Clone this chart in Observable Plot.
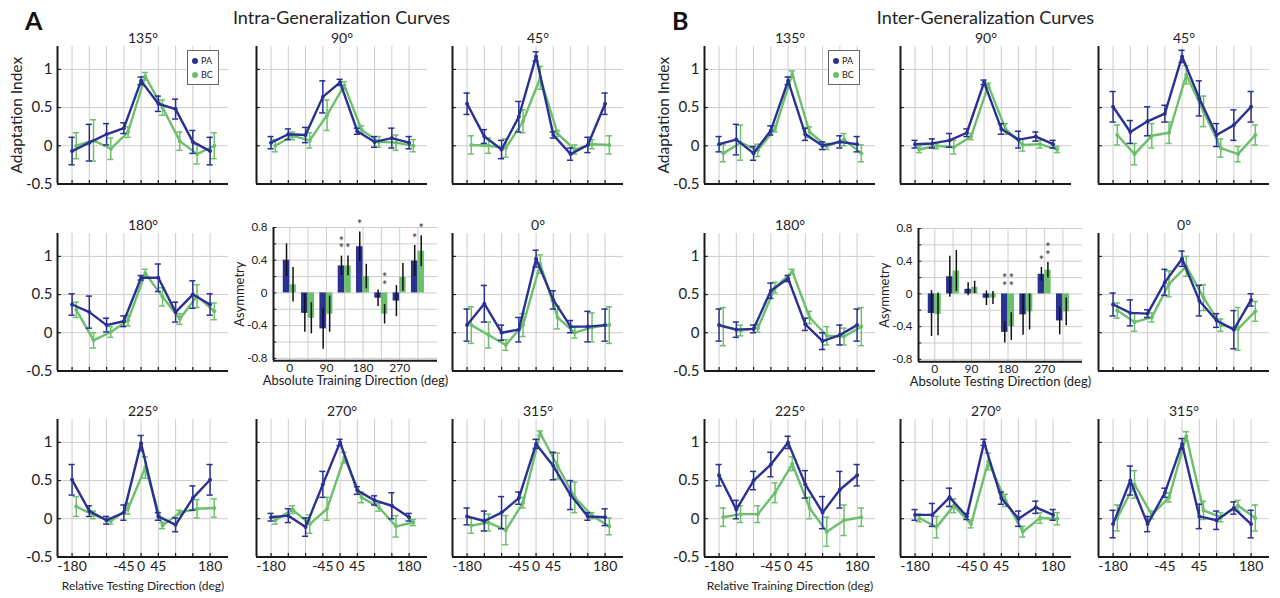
<!DOCTYPE html>
<html>
<head>
<meta charset="utf-8">
<script src="https://cdn.jsdelivr.net/npm/d3@7"></script>
<script src="https://cdn.jsdelivr.net/npm/@observablehq/plot@0.6"></script>
<style>
  html, body { margin: 0; padding: 0; background: #fff; }
  #fig { position: relative; width: 1280px; height: 598px; overflow: hidden; font-family: Lato, "Open Sans", sans-serif; color: #222; }
  .lbl { position: absolute; white-space: nowrap; line-height: 20px; }
  .panel { font-weight: bold; font-size: 25px; line-height: 24px; color: #111; }
  .maintitle { font-size: 18px; text-align: center; width: 400px; }
  .legend { position: absolute; border: 1px solid #666; background: #fff; font-size: 9px; line-height: 14px; padding: 3px 3px 3px 4px; box-sizing: border-box; }
  .legend .row { display: flex; align-items: center; }
  .legend .dot { width: 6px; height: 6px; border-radius: 50%; margin-right: 3px; }
</style>
</head>
<body>
<div id="fig"></div>
<script>
// ---------------- data ----------------
const directions = [-180, -135, -90, -45, 0, 45, 90, 135, 180];
const xTickLabels = [-180, -45, 0, 45, 180];
const xTickLabelsB315 = [-180, -45, 45, 180];
const yTickLabels = [-0.5, 0, 0.5, 1];
const yGrid = [0, 0.5, 1];
const seriesNames = ["PA", "BC"];

// Panel A: Intra-Generalization Curves
const A135_PA = [-0.07, 0.04, 0.15, 0.23, 0.85, 0.55, 0.48, 0.05, -0.07];
const A135_PAerr = [0.18, 0.24, 0.14, 0.07, 0.05, 0.10, 0.13, 0.15, 0.18];
const A135_BC = [0.00, 0.07, -0.04, 0.18, 0.91, 0.50, 0.06, -0.11, 0.00];
const A135_BCerr = [0.17, 0.27, 0.14, 0.07, 0.05, 0.10, 0.12, 0.13, 0.17];

const A90_PA = [0.04, 0.15, 0.14, 0.64, 0.83, 0.19, 0.05, 0.10, 0.04];
const A90_PAerr = [0.08, 0.07, 0.10, 0.21, 0.04, 0.04, 0.07, 0.13, 0.08];
const A90_BC = [0.00, 0.13, 0.07, 0.40, 0.79, 0.21, 0.05, 0.04, 0.00];
const A90_BCerr = [0.08, 0.05, 0.10, 0.20, 0.05, 0.05, 0.07, 0.10, 0.08];

const A45_PA = [0.55, 0.12, -0.05, 0.38, 1.17, 0.14, -0.11, 0.01, 0.55];
const A45_PAerr = [0.14, 0.09, 0.12, 0.20, 0.06, 0.04, 0.08, 0.10, 0.14];
const A45_BC = [0.01, 0.00, -0.03, 0.32, 0.89, 0.16, -0.05, 0.02, 0.01];
const A45_BCerr = [0.12, 0.10, 0.12, 0.15, 0.15, 0.04, 0.06, 0.06, 0.12];

const A180_PA = [0.37, 0.27, 0.10, 0.15, 0.72, 0.72, 0.27, 0.50, 0.37];
const A180_PAerr = [0.14, 0.21, 0.09, 0.07, 0.03, 0.18, 0.13, 0.18, 0.14];
const A180_BC = [0.30, -0.10, 0.01, 0.16, 0.78, 0.47, 0.18, 0.48, 0.28];
const A180_BCerr = [0.10, 0.10, 0.07, 0.07, 0.05, 0.12, 0.07, 0.15, 0.11];

const A0_PA = [0.10, 0.38, 0.00, 0.04, 0.97, 0.43, 0.08, 0.08, 0.10];
const A0_PAerr = [0.21, 0.24, 0.10, 0.16, 0.11, 0.12, 0.08, 0.20, 0.21];
const A0_BC = [0.10, -0.03, -0.16, 0.10, 0.90, 0.20, 0.00, 0.07, 0.10];
const A0_BCerr = [0.24, 0.17, 0.07, 0.15, 0.12, 0.15, 0.07, 0.19, 0.24];

const A225_PA = [0.51, 0.10, -0.02, 0.08, 0.99, 0.03, -0.08, 0.27, 0.51];
const A225_PAerr = [0.20, 0.07, 0.05, 0.10, 0.10, 0.05, 0.09, 0.16, 0.20];
const A225_BC = [0.16, 0.05, -0.03, 0.13, 0.67, -0.09, 0.08, 0.13, 0.14];
const A225_BCerr = [0.13, 0.05, 0.04, 0.07, 0.14, 0.04, 0.03, 0.12, 0.12];

const A270_PA = [0.02, 0.04, -0.11, 0.45, 1.00, 0.37, 0.24, 0.17, 0.02];
const A270_PAerr = [0.05, 0.09, 0.12, 0.17, 0.04, 0.05, 0.06, 0.17, 0.05];
const A270_BC = [-0.02, 0.12, -0.07, 0.13, 0.80, 0.28, 0.15, -0.10, -0.05];
const A270_BCerr = [0.05, 0.05, 0.12, 0.15, 0.07, 0.07, 0.05, 0.14, 0.04];

const A315_PA = [0.03, -0.03, 0.08, 0.27, 0.98, 0.69, 0.31, 0.03, 0.02];
const A315_PAerr = [0.11, 0.13, 0.21, 0.08, 0.06, 0.18, 0.19, 0.05, 0.11];
const A315_BC = [-0.09, -0.05, -0.15, 0.21, 1.12, 0.69, 0.28, 0.04, -0.10];
const A315_BCerr = [0.10, 0.11, 0.19, 0.07, 0.03, 0.17, 0.20, 0.04, 0.11];

// Panel B: Inter-Generalization Curves
const B135_PA = [0.02, 0.08, -0.10, 0.20, 0.85, 0.15, 0.00, 0.05, 0.02];
const B135_PAerr = [0.10, 0.20, 0.09, 0.06, 0.05, 0.08, 0.05, 0.08, 0.10];
const B135_BC = [-0.10, 0.04, -0.06, 0.22, 0.94, 0.18, -0.01, 0.08, -0.10];
const B135_BCerr = [0.11, 0.23, 0.08, 0.04, 0.04, 0.07, 0.04, 0.08, 0.11];

const B90_PA = [0.02, 0.03, 0.07, 0.17, 0.83, 0.22, 0.08, 0.12, 0.02];
const B90_PAerr = [0.05, 0.06, 0.09, 0.05, 0.03, 0.07, 0.11, 0.06, 0.05];
const B90_BC = [-0.05, 0.00, -0.02, 0.12, 0.79, 0.22, 0.01, 0.02, -0.05];
const B90_BCerr = [0.04, 0.04, 0.09, 0.04, 0.03, 0.07, 0.08, 0.05, 0.04];

const B45_PA = [0.51, 0.18, 0.32, 0.42, 1.17, 0.62, 0.14, 0.27, 0.51];
const B45_PAerr = [0.20, 0.15, 0.19, 0.11, 0.08, 0.23, 0.15, 0.20, 0.20];
const B45_BC = [0.14, -0.11, 0.13, 0.17, 0.93, 0.45, -0.03, -0.11, 0.14];
const B45_BCerr = [0.13, 0.14, 0.16, 0.14, 0.12, 0.20, 0.12, 0.10, 0.13];

const B180_PA = [0.10, 0.04, 0.05, 0.55, 0.71, 0.11, -0.11, -0.03, 0.10];
const B180_PAerr = [0.21, 0.10, 0.05, 0.10, 0.04, 0.08, 0.11, 0.13, 0.21];
const B180_BC = [0.08, 0.03, 0.06, 0.59, 0.80, 0.20, -0.04, -0.05, 0.08];
const B180_BCerr = [0.25, 0.07, 0.05, 0.07, 0.03, 0.08, 0.12, 0.11, 0.25];

const B0_PA = [0.37, 0.26, 0.25, 0.66, 0.97, 0.42, 0.16, 0.04, 0.43];
const B0_PAerr = [0.15, 0.17, 0.05, 0.17, 0.10, 0.20, 0.09, 0.25, 0.08];
const B0_BC = [0.29, 0.14, 0.20, 0.64, 0.87, 0.46, 0.10, 0.05, 0.28];
const B0_BCerr = [0.10, 0.12, 0.06, 0.17, 0.13, 0.17, 0.08, 0.28, 0.13];

const B225_PA = [0.57, 0.12, 0.50, 0.71, 1.00, 0.45, 0.08, 0.38, 0.57];
const B225_PAerr = [0.14, 0.12, 0.12, 0.16, 0.08, 0.18, 0.21, 0.24, 0.14];
const B225_BC = [0.02, 0.06, 0.06, 0.34, 0.72, 0.14, -0.17, -0.02, 0.02];
const B225_BCerr = [0.12, 0.11, 0.11, 0.13, 0.09, 0.14, 0.19, 0.20, 0.12];

const B270_PA = [0.05, 0.05, 0.28, 0.03, 1.00, 0.27, 0.00, 0.15, 0.05];
const B270_PAerr = [0.07, 0.15, 0.12, 0.04, 0.04, 0.08, 0.10, 0.08, 0.07];
const B270_BC = [0.01, -0.11, 0.17, -0.07, 0.75, 0.24, -0.17, 0.01, 0.00];
const B270_BCerr = [0.05, 0.14, 0.09, 0.05, 0.11, 0.08, 0.07, 0.07, 0.08];

const B315_PA = [-0.07, 0.50, -0.07, 0.34, 0.98, 0.03, -0.02, 0.14, -0.07];
const B315_PAerr = [0.18, 0.19, 0.10, 0.06, 0.07, 0.16, 0.12, 0.08, 0.18];
const B315_BC = [0.01, 0.45, 0.05, 0.28, 1.08, 0.11, 0.02, 0.17, 0.01];
const B315_BCerr = [0.17, 0.18, 0.05, 0.06, 0.06, 0.12, 0.06, 0.07, 0.17];

// Asymmetry bar charts
const barCategories = [0, 45, 90, 135, 180, 225, 270, 315];
const barXTickLabels = [0, 90, 180, 270];
const barYTickLabels = [-0.8, -0.4, 0, 0.4, 0.8];
const barYGrid = [-0.8, -0.6, -0.4, -0.2, 0, 0.2, 0.4, 0.6, 0.8];

const AsymA_PA = [0.40, -0.25, -0.44, 0.33, 0.565, -0.065, -0.10, 0.39];
const AsymA_PAerr = [0.20, 0.23, 0.25, 0.12, 0.18, 0.10, 0.19, 0.19];
const AsymA_BC = [0.10, -0.31, -0.26, 0.33, 0.20, -0.26, 0.19, 0.51];
const AsymA_BCerr = [0.21, 0.19, 0.22, 0.12, 0.15, 0.12, 0.17, 0.19];
// significance stars: category, series, number of stacked stars
const AsymA_stars = [
  {c: 135, g: "PA", n: 2}, {c: 135, g: "BC", n: 1},
  {c: 180, g: "PA", n: 1},
  {c: 225, g: "BC", n: 2},
  {c: 315, g: "PA", n: 1}, {c: 315, g: "BC", n: 1}
];

const AsymB_PA = [-0.24, 0.21, 0.057, -0.053, -0.47, -0.256, 0.24, -0.33];
const AsymB_PAerr = [0.28, 0.25, 0.08, 0.09, 0.13, 0.25, 0.085, 0.17];
const AsymB_BC = [-0.25, 0.28, 0.08, -0.05, -0.40, -0.22, 0.29, -0.22];
const AsymB_BCerr = [0.26, 0.25, 0.075, 0.08, 0.17, 0.22, 0.095, 0.17];
const AsymB_stars = [
  {c: 180, g: "PA", n: 2}, {c: 180, g: "BC", n: 2},
  {c: 270, g: "PA", n: 1}, {c: 270, g: "BC", n: 2}
];

// ---------------- style / layout ----------------
const colors = {PA: "#2b3192", BC: "#6cc06b"};
const gridColor = "#cdcdcd";
const axisColor = "#1a1a1a";
const xDomain = [-218, 228];
const yDomain = [-0.5, 1.3];
const seriesOffset = {PA: 0, BC: 11};
const capHalf = 8;
const plotW = 171, plotH = 137.4;
const M = {l: 52, r: 6, t: 24, b: 44};
const barXDomain = [-40, 363];
const barYDomain = [-0.83, 0.8];
const barW = 16;
const barPlotW = 164, barPlotH = 133.3;
const BM = {l: 44, r: 6, t: 14, b: 32};
const starStep = 0.095;
const fontFamily = "Lato, 'Open Sans', sans-serif";

const fig = document.getElementById("fig");

function place(el, left, top) {
  el.style.position = "absolute";
  el.style.left = left + "px";
  el.style.top = top + "px";
  fig.appendChild(el);
}

function lineChart(o) {
  const [X0, X1] = xDomain, [Y0, Y1] = yDomain;
  const mk = (vals, errs, g) => directions.map((d, i) => ({dir: d, v: vals[i], e: errs[i], g}));
  const pa = mk(o.PA, o.PAerr, "PA"), bc = mk(o.BC, o.BCerr, "BC");
  const X = d => d.dir + seriesOffset[d.g];
  const series = (data, color) => [
    Plot.ruleX(data, {x: X, y1: d => d.v - d.e, y2: d => d.v + d.e, stroke: color, strokeWidth: 1.5}),
    Plot.ruleY(data, {y: d => d.v + d.e, x1: d => X(d) - capHalf, x2: d => X(d) + capHalf, stroke: color, strokeWidth: 1.5}),
    Plot.ruleY(data, {y: d => d.v - d.e, x1: d => X(d) - capHalf, x2: d => X(d) + capHalf, stroke: color, strokeWidth: 1.5}),
    Plot.line(data, {x: X, y: "v", stroke: color, strokeWidth: 2.4}),
    Plot.dot(data, {x: X, y: "v", r: 2, fill: color})
  ];
  const marks = [
    Plot.gridX(directions, {stroke: gridColor, strokeOpacity: 1}),
    Plot.gridY(yGrid, {stroke: gridColor, strokeOpacity: 1}),
    Plot.ruleX(directions, {y1: Y0, y2: Y0 + 0.045, stroke: axisColor, strokeWidth: 1.2}),
    Plot.ruleY(yGrid, {x1: X0, x2: X0 + 10, stroke: axisColor, strokeWidth: 1.2}),
    ...series(bc, colors.BC),
    ...series(pa, colors.PA),
    Plot.ruleX([X0], {y1: Y0, y2: Y1, stroke: axisColor, strokeWidth: 2}),
    Plot.ruleY([Y0], {x1: X0, x2: X1, stroke: axisColor, strokeWidth: 2}),
    Plot.text([o.title], {text: d => d, frameAnchor: "top", lineAnchor: "bottom", dy: -3, fontSize: 14, fill: "#222"})
  ];
  if (o.yLabels) marks.push(Plot.axisY(yTickLabels, {label: null, tickSize: 0, tickPadding: 5, tickFormat: d => String(d), fontSize: 15, fill: "#222"}));
  if (o.yTitle) marks.push(Plot.text([o.yTitle], {text: d => d, frameAnchor: "left", rotate: -90, dx: -40, textAnchor: "middle", lineAnchor: "middle", fontSize: 15.5, fill: "#222"}));
  if (o.xLabels) marks.push(Plot.axisX(o.xLabels, {label: null, tickSize: 0, tickPadding: 4, tickFormat: d => String(d), fontSize: 14, fill: "#222"}));
  if (o.xTitle) marks.push(Plot.text([o.xTitle], {text: d => d, frameAnchor: "bottom", lineAnchor: "top", dy: 25, fontSize: 12, fill: "#222"}));
  const svg = Plot.plot({
    width: plotW + M.l + M.r, height: plotH + M.t + M.b,
    marginLeft: M.l, marginRight: M.r, marginTop: M.t, marginBottom: M.b,
    x: {domain: xDomain, axis: null}, y: {domain: yDomain, axis: null},
    style: {background: "none", overflow: "visible", fontFamily, color: "#222"},
    marks
  });
  place(svg, o.left - M.l, o.top - M.t);
  if (o.legend) {
    const lg = document.createElement("div");
    lg.className = "legend";
    lg.style.width = "32px"; lg.style.height = "35px";
    seriesNames.forEach(n => {
      const r = document.createElement("div"); r.className = "row";
      const dot = document.createElement("span"); dot.className = "dot"; dot.style.background = colors[n];
      const t = document.createElement("span"); t.textContent = n;
      r.appendChild(dot); r.appendChild(t); lg.appendChild(r);
    });
    place(lg, o.left + o.legend, o.top + 4);
  }
}

function barChart(o) {
  const [X0, X1] = barXDomain, [Y0, Y1] = barYDomain;
  const mk = (vals, errs, g) => barCategories.map((c, i) => ({c, v: vals[i], e: errs[i], g}));
  const all = {PA: mk(o.PA, o.PAerr, "PA"), BC: mk(o.BC, o.BCerr, "BC")};
  const left = d => d.c + (d.g === "PA" ? -barW : 0);
  const center = d => left(d) + barW / 2;
  // one stacked text per bar: bottom star sits just above the error bar (or above zero)
  const starData = o.stars.map(s => {
    const b = all[s.g][barCategories.indexOf(s.c)];
    return {
      x: center(b),
      y: Math.max(0, b.v + b.e) + 0.1 + starStep * (s.n - 1) / 2,
      text: Array.from({length: s.n}, () => "*").join("\n")
    };
  });
  const marks = [
    Plot.gridX(barCategories, {stroke: gridColor, strokeOpacity: 1}),
    Plot.gridY(barYGrid, {stroke: gridColor, strokeOpacity: 1}),
    Plot.ruleY(barYGrid, {x1: X0, x2: X0 + 8, stroke: axisColor, strokeWidth: 1}),
    ...seriesNames.map(g => Plot.rect(all[g], {x1: left, x2: d => left(d) + barW, y1: 0, y2: "v", fill: colors[g]})),
    ...seriesNames.map(g => Plot.ruleX(all[g], {x: center, y1: d => d.v - d.e, y2: d => d.v + d.e, stroke: "#111", strokeWidth: 1.5})),
    Plot.text(starData, {x: "x", y: "y", text: "text", fontSize: 12.5, lineHeight: 0.62, fill: "#333", lineAnchor: "middle", dy: 3}),
    Plot.ruleX([X0], {y1: Y0, y2: Y1, stroke: axisColor, strokeWidth: 2}),
    Plot.ruleY([Y0], {x1: X0, x2: X1, stroke: axisColor, strokeWidth: 2}),
    Plot.axisY(barYTickLabels, {label: null, tickSize: 0, tickPadding: 6, tickFormat: d => String(d), fontSize: 11.5, fill: "#222"}),
    Plot.axisX(barXTickLabels, {label: null, tickSize: 0, tickPadding: 3, tickFormat: d => String(d), fontSize: 12, fill: "#222"}),
    Plot.text(["Asymmetry"], {text: d => d, frameAnchor: "left", rotate: -90, dx: -34, textAnchor: "middle", lineAnchor: "middle", fontSize: 13, fill: "#222"}),
    Plot.text([o.xTitle], {text: d => d, frameAnchor: "bottom", lineAnchor: "top", dy: 15, fontSize: 13, fill: "#222"})
  ];
  const svg = Plot.plot({
    width: barPlotW + BM.l + BM.r, height: barPlotH + BM.t + BM.b,
    marginLeft: BM.l, marginRight: BM.r, marginTop: BM.t, marginBottom: BM.b,
    x: {domain: barXDomain, axis: null}, y: {domain: barYDomain, axis: null},
    style: {background: "none", overflow: "visible", fontFamily, color: "#222"},
    marks
  });
  place(svg, o.left - BM.l, o.top - BM.t);
}

function label(text, cls, left, top) {
  const d = document.createElement("div");
  d.className = "lbl " + cls;
  d.textContent = text;
  place(d, left, top);
}

// ---------------- build ----------------
const panels = [
  {key: "A", name: "Intra-Generalization Curves", cols: [57, 256, 452], barLeft: 273.3, barTop: 226.7,
   barTitle: "Absolute Training Direction (deg)", xTitle: "Relative Testing Direction (deg)", legend: 130,
   charts: {
     "135": [A135_PA, A135_PAerr, A135_BC, A135_BCerr], "90": [A90_PA, A90_PAerr, A90_BC, A90_BCerr],
     "45": [A45_PA, A45_PAerr, A45_BC, A45_BCerr], "180": [A180_PA, A180_PAerr, A180_BC, A180_BCerr],
     "0": [A0_PA, A0_PAerr, A0_BC, A0_BCerr], "225": [A225_PA, A225_PAerr, A225_BC, A225_BCerr],
     "270": [A270_PA, A270_PAerr, A270_BC, A270_BCerr], "315": [A315_PA, A315_PAerr, A315_BC, A315_BCerr]},
   bars: [AsymA_PA, AsymA_PAerr, AsymA_BC, AsymA_BCerr, AsymA_stars], x315: xTickLabels},
  {key: "B", name: "Inter-Generalization Curves", cols: [704, 900, 1098], barLeft: 917.7, barTop: 228.3,
   barTitle: "Absolute Testing Direction (deg)", xTitle: "Relative Training Direction (deg)", legend: 124,
   charts: {
     "135": [B135_PA, B135_PAerr, B135_BC, B135_BCerr], "90": [B90_PA, B90_PAerr, B90_BC, B90_BCerr],
     "45": [B45_PA, B45_PAerr, B45_BC, B45_BCerr], "180": [B180_PA, B180_PAerr, B180_BC, B180_BCerr],
     "0": [B0_PA, B0_PAerr, B0_BC, B0_BCerr], "225": [B225_PA, B225_PAerr, B225_BC, B225_BCerr],
     "270": [B270_PA, B270_PAerr, B270_BC, B270_BCerr], "315": [B315_PA, B315_PAerr, B315_BC, B315_BCerr]},
   bars: [AsymB_PA, AsymB_PAerr, AsymB_BC, AsymB_BCerr, AsymB_stars], x315: xTickLabelsB315}
];
const gridLayout = [["135", "90", "45"], ["180", null, "0"], ["225", "270", "315"]];
const rowTops = [46.4, 232.8, 418.6];

panels.forEach(p => {
  const center = p.cols[1] + plotW / 2;
  label(p.key, "panel", p.cols[0] - 32, 8);
  label(p.name, "maintitle", center - 200, 7);
  gridLayout.forEach((row, r) => row.forEach((k, c) => {
    if (k === null) {
      barChart({PA: p.bars[0], PAerr: p.bars[1], BC: p.bars[2], BCerr: p.bars[3], stars: p.bars[4],
        xTitle: p.barTitle, left: p.barLeft, top: p.barTop});
      return;
    }
    const [PA, PAerr, BC, BCerr] = p.charts[k];
    lineChart({
      PA, PAerr, BC, BCerr, title: k + "°",
      left: p.cols[c], top: rowTops[r],
      yLabels: c === 0, yTitle: (c === 0 && r === 0) ? "Adaptation Index" : null,
      xLabels: r === 2 ? (k === "315" ? p.x315 : xTickLabels) : null,
      xTitle: (r === 2 && c === 0) ? p.xTitle : null,
      legend: (r === 0 && c === 0) ? p.legend : null
    });
  }));
});
</script>
</body>
</html>
